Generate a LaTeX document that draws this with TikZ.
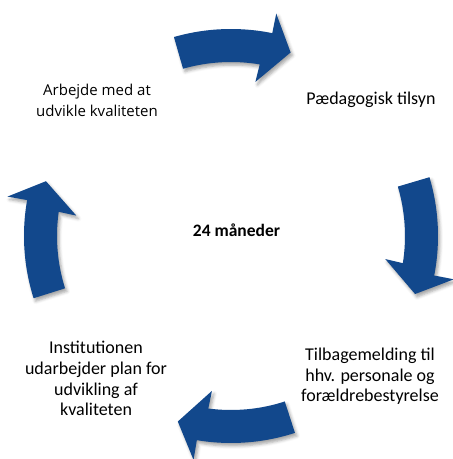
\documentclass[tikz,border=0pt]{standalone}
\usepackage{fontspec}
\setmainfont{Carlito}
\newfontfamily\osans{Open Sans}
\usetikzlibrary{shadows.blur}
\definecolor{arrowblue}{RGB}{18,72,140}
\tikzset{
  cyclearrow/.style={fill=arrowblue, draw=none,
    blur shadow={shadow xshift=2pt, shadow yshift=-3pt, shadow blur radius=3pt, shadow opacity=35}},
  steplabel/.style={align=center, inner sep=0pt, font=\fontsize{18}{21}\selectfont},
  altlabel/.style={align=center, inner sep=0pt, font=\osans\fontsize{15}{21.5}\selectfont},
  centerlabel/.style={inner sep=0pt, font=\bfseries\fontsize{17.5}{20}\selectfont},
}
\newcommand{\cyclearrowat}[1]{%
  \fill[cyclearrow] ([shift={(#1+17:207)}]C)
    arc[start angle=#1+17, end angle=#1-10.5, radius=207]
    -- ([shift={(#1-10.5:227)}]C)
    -- ([shift={(#1-17:193)}]C)
    -- ([shift={(#1-8:156)}]C)
    -- ([shift={(#1-8.5:174)}]C)
    arc[start angle=#1-8.5, end angle=#1+17, radius=174]
    -- cycle;
}
\begin{document}
\begin{tikzpicture}[x=1pt,y=1pt]
\useasboundingbox (0,0) rectangle (453,459);
\coordinate (C) at (231,223);
\cyclearrowat{89}
\cyclearrowat{-0.5}
\cyclearrowat{-89}
\cyclearrowat{180.5}
\node[centerlabel, anchor=base] (center) at (236.5,222) {24 måneder};
\node[steplabel, anchor=base] (tilsyn) at (371,354) {Pædagogisk tilsyn};
\node[steplabel, anchor=base] (feedback) at (370,57) {Tilbagemelding til\\hhv. personale og\\forældrebestyrelse};
\node[steplabel, anchor=base] (plan) at (96,43) {Institutionen\\udarbejder plan for\\udvikling af\\kvaliteten};
\node[altlabel, anchor=base] (work) at (97,342) {Arbejde med at\\udvikle kvaliteten};
\end{tikzpicture}
\end{document}
